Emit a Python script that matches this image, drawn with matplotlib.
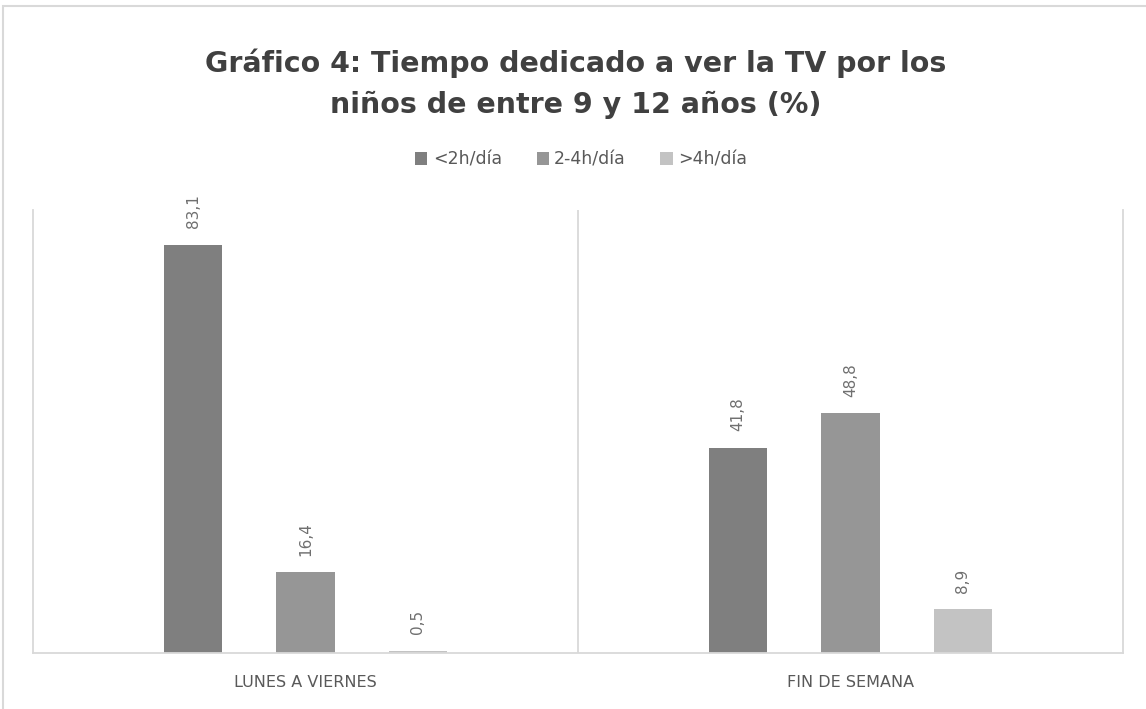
import numpy as np
import matplotlib
matplotlib.use("Agg")
import matplotlib.pyplot as plt
from matplotlib.patches import Rectangle

categories = ["LUNES A VIERNES", "FIN DE SEMANA"]
series = ["<2h/día", "2-4h/día", ">4h/día"]
values = [
    [83.1, 41.8],
    [16.4, 48.8],
    [0.5, 8.9],
]
labels = [
    ["83,1", "41,8"],
    ["16,4", "48,8"],
    ["0,5", "8,9"],
]
colors = ["#7f7f7f", "#969696", "#c3c3c3"]

fig = plt.figure(figsize=(11.46, 7.09), dpi=100)
fig.patches.append(Rectangle((3 / 1146, -0.1), 1.2, (709 - 6) / 709 + 0.1,
                             transform=fig.transFigure, fill=False,
                             edgecolor="#d9d9d9", linewidth=1.5))

ax = fig.add_axes([33 / 1146, 56 / 709, 1090 / 1146, 443 / 709])
x = np.arange(len(categories))
width = 0.108
offset = 0.2064
for i, name in enumerate(series):
    xs = x + (i - 1) * offset
    bars = ax.bar(xs, values[i], width, color=colors[i], label=name)
    for xi, v, lab in zip(xs, values[i], labels[i]):
        ax.text(xi, v + 3.4, lab, rotation=90, ha="center", va="bottom",
                fontsize=11, color="#6f6f6f")

ax.set_xlim(-0.5, 1.5)
ax.set_ylim(0, 90.2)
ax.set_yticks([])
ax.set_xticks(x)
ax.set_xticklabels(categories, fontsize=11.5, color="#595959")
ax.tick_params(axis="x", length=0, pad=16)
for s in ["left", "right", "bottom"]:
    ax.spines[s].set_color("#d9d9d9")
    ax.spines[s].set_linewidth(1.3)
ax.spines["top"].set_visible(False)
ax.axvline(0.5, color="#d9d9d9", linewidth=1.3)

fig.text(0.502, 0.882, "Gráfico 4: Tiempo dedicado a ver la TV por los\nniños de entre 9 y 12 años (%)",
         ha="center", va="center", fontsize=20.5, fontweight="bold",
         color="#404040", linespacing=1.55)

fig.legend(loc="center", bbox_to_anchor=(0.507, 0.775), ncol=3, frameon=False,
           fontsize=12.5, handlelength=0.7, handleheight=0.7, handletextpad=0.3,
           columnspacing=2.0, labelcolor="#595959")

fig.savefig("out.png", dpi=100)
